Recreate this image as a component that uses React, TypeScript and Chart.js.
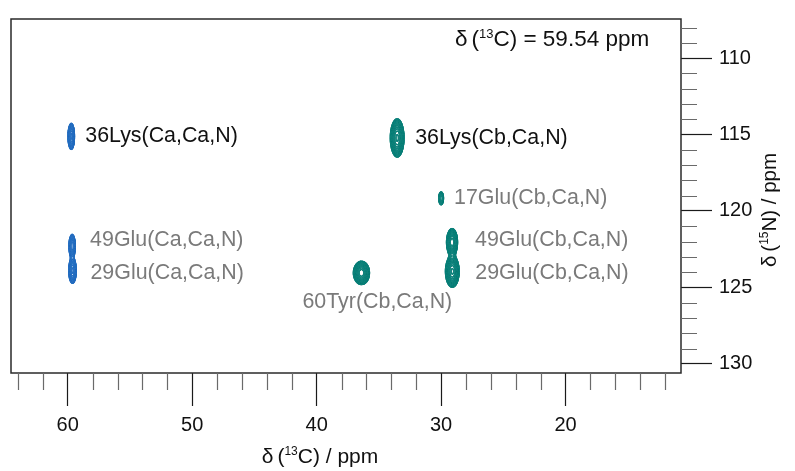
import { useEffect, useRef } from "react";
import { Chart, registerables } from "chart.js";

Chart.register(...registerables);

// Visible spectral window (ppm)
const carbonRange = [10.72, 64.56];
const nitrogenRange = [107.44, 130.6];

// Axis ticks (ppm)
const carbonMajorTicks = [20, 30, 40, 50, 60];
const carbonMinorTicks = [12, 14, 16, 18, 22, 24, 26, 28, 32, 34, 36, 38, 42, 44, 46, 48, 52, 54, 56, 58, 62, 64];
const nitrogenMajorTicks = [110, 115, 120, 125, 130];
const nitrogenMinorTicks = [108, 109, 111, 112, 113, 114, 116, 117, 118, 119, 121, 122, 123, 124, 126, 127, 128, 129];

// Cross peaks in the plane: assignment, shifts, line widths (sigma, ppm), relative height
const peakLabels = [
  "36Lys(Ca,Ca,N)",
  "49Glu(Ca,Ca,N)",
  "29Glu(Ca,Ca,N)",
  "36Lys(Cb,Ca,N)",
  "17Glu(Cb,Ca,N)",
  "49Glu(Cb,Ca,N)",
  "29Glu(Cb,Ca,N)",
  "60Tyr(Cb,Ca,N)",
];
const peakCarbon = [59.72, 59.65, 59.62, 33.53, 30.0, 29.12, 29.1, 36.4];
const peakNitrogen = [115.12, 122.3, 123.9, 115.22, 119.17, 122.05, 123.95, 124.05];
const peakWidthC = [0.13, 0.13, 0.15, 0.24, 0.13, 0.2, 0.24, 0.29];
const peakWidthN = [0.41, 0.38, 0.4, 0.54, 0.27, 0.4, 0.45, 0.34];
const peakHeight = [0.9, 0.8, 0.9, 1.5, 0.35, 1.3, 1.5, 1.3];
const peakType = ["Ca", "Ca", "Ca", "Cb", "Cb", "Cb", "Cb", "Cb"];
const peakLabelStrong = [true, false, false, true, false, false, false, false];

// Contour levels (relative intensity, factor 1.3 apart)
const contourLevels = [0.1, 0.13, 0.169, 0.22, 0.286, 0.371, 0.483, 0.627, 0.816, 1.06, 1.38, 1.79];

const planeShift = "59.54";

// Label placement relative to each peak centre (px)
const labelOffsets = [
  [14, 0],
  [18, -6],
  [18, 2.5],
  [18, 0],
  [13, 0],
  [23, -2],
  [23, 1.5],
  [-59, 29],
];

const FONT = "'Liberation Sans', Arial, Helvetica, sans-serif";
const COLORS: Record<string, string> = { Ca: "#2c74c4", Cb: "#13847d" };

type Pt = { x: number; y: number };

// Trace iso-intensity lines of the summed Gaussian peaks of one type (marching squares)
function contourData(type: string): Pt[] {
  const idx = peakType.map((t, i) => (t === type ? i : -1)).filter((i) => i >= 0);
  const out: Pt[] = [];
  const dc = 0.015;
  const dn = 0.025;
  let c0 = Infinity, c1 = -Infinity, n0 = Infinity, n1 = -Infinity;
  idx.forEach((i) => {
    c0 = Math.min(c0, peakCarbon[i] - 4 * peakWidthC[i]);
    c1 = Math.max(c1, peakCarbon[i] + 4 * peakWidthC[i]);
    n0 = Math.min(n0, peakNitrogen[i] - 4 * peakWidthN[i]);
    n1 = Math.max(n1, peakNitrogen[i] + 4 * peakWidthN[i]);
  });
  const nc = Math.ceil((c1 - c0) / dc) + 1;
  const nn = Math.ceil((n1 - n0) / dn) + 1;
  const field = new Float64Array(nc * nn);
  for (let j = 0; j < nn; j++) {
    const n = n0 + j * dn;
    for (let i = 0; i < nc; i++) {
      const c = c0 + i * dc;
      let v = 0;
      for (const k of idx) {
        const u = (c - peakCarbon[k]) / peakWidthC[k];
        const w = (n - peakNitrogen[k]) / peakWidthN[k];
        const r = u * u + w * w;
        if (r < 40) v += peakHeight[k] * Math.exp(-0.5 * r);
      }
      field[j * nc + i] = v;
    }
  }
  const table: number[][][] = [
    [], [[3, 0]], [[0, 1]], [[3, 1]], [[1, 2]], [[3, 0], [1, 2]], [[0, 2]], [[3, 2]],
    [[2, 3]], [[0, 2]], [[0, 1], [2, 3]], [[1, 2]], [[1, 3]], [[0, 1]], [[0, 3]], [],
  ];
  for (const L of contourLevels) {
    for (let j = 0; j < nn - 1; j++) {
      for (let i = 0; i < nc - 1; i++) {
        const v00 = field[j * nc + i];
        const v10 = field[j * nc + i + 1];
        const v11 = field[(j + 1) * nc + i + 1];
        const v01 = field[(j + 1) * nc + i];
        const cs = (v00 > L ? 1 : 0) | (v10 > L ? 2 : 0) | (v11 > L ? 4 : 0) | (v01 > L ? 8 : 0);
        if (cs === 0 || cs === 15) continue;
        const c = c0 + i * dc;
        const n = n0 + j * dn;
        const edge = (e: number): Pt => {
          if (e === 0) return { x: c + ((L - v00) / (v10 - v00)) * dc, y: n };
          if (e === 1) return { x: c + dc, y: n + ((L - v10) / (v11 - v10)) * dn };
          if (e === 2) return { x: c + ((L - v01) / (v11 - v01)) * dc, y: n + dn };
          return { x: c, y: n + ((L - v00) / (v01 - v00)) * dn };
        };
        for (const [a, b] of table[cs]) {
          out.push(edge(a), edge(b), { x: NaN, y: NaN });
        }
      }
    }
  }
  return out;
}

type Part = { t: string; size: number; dy?: number; gap?: number };

function richWidth(ctx: CanvasRenderingContext2D, parts: Part[]) {
  let w = 0;
  for (const p of parts) {
    ctx.font = `${p.size}px ${FONT}`;
    w += (p.gap || 0) + ctx.measureText(p.t).width;
  }
  return w;
}

function drawRich(ctx: CanvasRenderingContext2D, x: number, y: number, parts: Part[], align: "left" | "center") {
  let cx = align === "center" ? x - richWidth(ctx, parts) / 2 : x;
  ctx.textAlign = "left";
  ctx.textBaseline = "middle";
  for (const p of parts) {
    ctx.font = `${p.size}px ${FONT}`;
    cx += p.gap || 0;
    ctx.fillText(p.t, cx, y + (p.dy || 0));
    cx += ctx.measureText(p.t).width;
  }
}

const nucleus = (num: string, sym: string, rest: string, size: number): Part[] => [
  { t: "δ", size },
  { t: "(", size, gap: 4 },
  { t: num, size: Math.round(size * 0.58), dy: -size * 0.27 },
  { t: sym + rest, size },
];

const decorations = {
  id: "decorations",
  afterDraw(chart: Chart) {
    const { ctx, chartArea: a } = chart;
    const xs = chart.scales.x;
    const ys = chart.scales.y;
    ctx.save();
    // frame
    ctx.strokeStyle = "#2a2a2a";
    ctx.lineWidth = 1.5;
    ctx.strokeRect(a.left, a.top, a.right - a.left, a.bottom - a.top);
    // minor ticks
    ctx.strokeStyle = "#6a6a6a";
    ctx.lineWidth = 1.2;
    ctx.beginPath();
    for (const v of carbonMinorTicks) {
      const px = Math.round(xs.getPixelForValue(v)) + 0.5;
      ctx.moveTo(px, a.bottom);
      ctx.lineTo(px, a.bottom + 17);
    }
    for (const v of nitrogenMinorTicks) {
      const py = Math.round(ys.getPixelForValue(v)) + 0.5;
      ctx.moveTo(a.right, py);
      ctx.lineTo(a.right + 16, py);
    }
    ctx.stroke();

    // peak assignments
    ctx.font = `21.4px ${FONT}`;
    peakLabels.forEach((label, i) => {
      const px = xs.getPixelForValue(peakCarbon[i]) + labelOffsets[i][0];
      const py = ys.getPixelForValue(peakNitrogen[i]) + labelOffsets[i][1];
      ctx.fillStyle = peakLabelStrong[i] ? "#111111" : "#7a7a7a";
      ctx.textAlign = "left";
      ctx.textBaseline = "middle";
      ctx.fillText(label, px, py);
    });

    // plane position
    ctx.fillStyle = "#111111";
    drawRich(ctx, 455, 40, nucleus("13", "C", ") = " + planeShift + " ppm", 22.5), "left");

    // axis titles
    drawRich(ctx, 320, 457, nucleus("13", "C", ") / ppm", 21), "center");
    ctx.save();
    ctx.translate(770, 210);
    ctx.rotate(-Math.PI / 2);
    drawRich(ctx, 0, 0, nucleus("15", "N", ") / ppm", 20.5), "center");
    ctx.restore();
    ctx.restore();
  },
};

export default function App() {
  const canvasRef = useRef<HTMLCanvasElement | null>(null);

  useEffect(() => {
    const canvas = canvasRef.current;
    if (!canvas) return;
    const chart = new Chart(canvas, {
      type: "scatter",
      data: {
        datasets: ["Ca", "Cb"].map((t) => ({
          label: t,
          data: contourData(t),
          showLine: true,
          spanGaps: false,
          borderColor: COLORS[t],
          borderWidth: 0.8,
          borderCapStyle: "round" as const,
          pointRadius: 0,
          pointHoverRadius: 0,
        })),
      },
      options: {
        animation: false,
        responsive: false,
        devicePixelRatio: 1,
        events: [],
        layout: { padding: { top: 12, left: 11, right: 0, bottom: 0 } },
        plugins: { legend: { display: false }, tooltip: { enabled: false } },
        scales: {
          x: {
            type: "linear",
            position: "bottom",
            reverse: true,
            min: carbonRange[0],
            max: carbonRange[1],
            afterBuildTicks: (s: any) => {
              s.ticks = carbonMajorTicks.map((v) => ({ value: v }));
            },
            afterFit: (s: any) => {
              s.height = 98;
            },
            grid: { drawOnChartArea: false, drawTicks: true, tickLength: 33, tickColor: "#1a1a1a", tickWidth: 1.2 },
            border: { display: false },
            ticks: { padding: 7, color: "#111111", maxRotation: 0, font: { family: FONT, size: 20 } },
          },
          y: {
            type: "linear",
            position: "right",
            reverse: true,
            min: nitrogenRange[0],
            max: nitrogenRange[1],
            afterBuildTicks: (s: any) => {
              s.ticks = nitrogenMajorTicks.map((v) => ({ value: v }));
            },
            afterFit: (s: any) => {
              s.width = 114;
            },
            grid: { drawOnChartArea: false, drawTicks: true, tickLength: 31, tickColor: "#1a1a1a", tickWidth: 1.2 },
            border: { display: false },
            ticks: { padding: 7, color: "#111111", font: { family: FONT, size: 20 } },
          },
        },
      },
      plugins: [decorations],
    });
    return () => chart.destroy();
  }, []);

  return (
    <div style={{ position: "fixed", left: 0, top: 0, width: 795, height: 471, background: "#ffffff" }}>
      <canvas ref={canvasRef} width={795} height={471} style={{ display: "block" }} />
    </div>
  );
}
